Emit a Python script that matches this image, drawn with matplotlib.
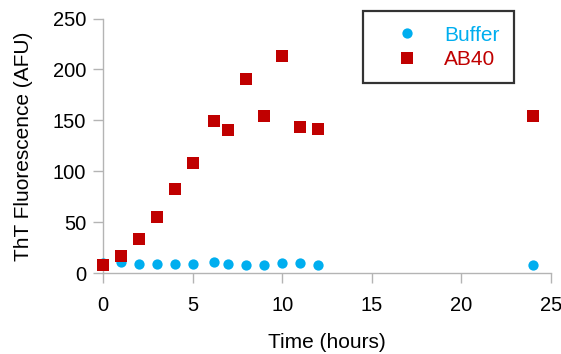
import numpy as np
import matplotlib
matplotlib.use('Agg')
import matplotlib.pyplot as plt

# data
time_buffer = [0, 1, 2, 3, 4, 5, 6.2, 7, 8, 9, 10, 11, 12, 24]
buffer = [10, 10.8, 9.2, 9, 9, 9, 11.2, 9, 8, 8.2, 9.8, 9.8, 8, 7.8]
time_ab40 = [0, 1, 2, 3, 4, 5, 6.2, 7, 8, 9, 10, 11, 12, 24]
ab40 = [8.2, 17, 34, 55, 82.6, 108.5, 149, 141, 191, 154.3, 213, 143.5, 141.9, 154.7]

xticks = [0, 5, 10, 15, 20, 25]
yticks = [0, 50, 100, 150, 200, 250]

blue = '#00aeef'
red = '#c00000'
grey = '#b4b4b4'

matplotlib.rcParams['font.family'] = 'Liberation Sans'
matplotlib.rcParams['font.size'] = 14.5

fig = plt.figure(figsize=(5.61, 3.54), dpi=100)
ax = fig.add_axes([0.1836, 0.228, 0.7984, 0.7197])

ax.plot(time_buffer, buffer, 'o', color=blue, markersize=7.4, markeredgewidth=0,
        label='Buffer', clip_on=False, zorder=3)
ax.plot(time_ab40, ab40, 's', color=red, markersize=8.6, markeredgewidth=0,
        label='AB40', clip_on=False, zorder=4)

ax.set_xlim(0, 25)
ax.set_ylim(0, 250)
ax.set_xticks(xticks)
ax.set_yticks(yticks)

for side in ['top', 'right']:
    ax.spines[side].set_visible(False)
for side in ['left', 'bottom']:
    ax.spines[side].set_color(grey)
    ax.spines[side].set_linewidth(1.0)
ax.tick_params(axis='both', direction='out', color=grey, width=1.0, length=7.2,
               labelcolor='black', labelsize=14.5)
ax.tick_params(axis='x', pad=9)
ax.tick_params(axis='y', pad=5)

ax.set_xlabel('Time (hours)', fontsize=15, labelpad=13)
ax.set_ylabel('ThT Fluorescence (AFU)', fontsize=15, labelpad=14)

leg = ax.legend(loc='upper left', bbox_to_anchor=(0.5797, 1.028), frameon=True,
                fancybox=False, fontsize=15, handletextpad=0.33, borderpad=0.68,
                labelspacing=0.27, handlelength=2.9, borderaxespad=0)
leg.get_frame().set_edgecolor('black')
leg.get_frame().set_linewidth(1.6)
for text, c in zip(leg.get_texts(), [blue, red]):
    text.set_color(c)

fig.savefig('out.png', dpi=100)
